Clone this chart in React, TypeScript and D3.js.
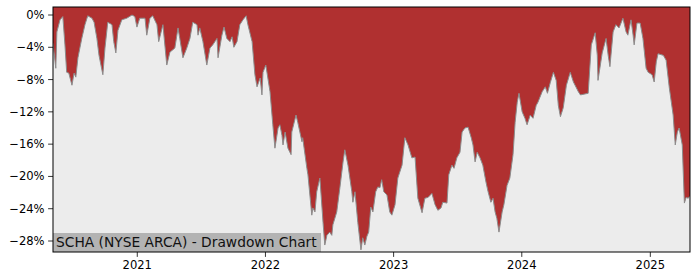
import React from 'react';
import * as d3 from 'd3';

const dates: string[] = [
  '2020-05-06','2020-05-14','2020-05-17','2020-05-26','2020-06-03','2020-06-09','2020-06-14','2020-06-20','2020-06-29','2020-07-05',
  '2020-07-10','2020-07-16','2020-07-27','2020-08-05','2020-08-13','2020-08-25','2020-08-31','2020-09-08','2020-09-14','2020-09-25',
  '2020-10-01','2020-10-09','2020-10-21','2020-10-26','2020-11-01','2020-11-07','2020-11-18','2020-12-02','2020-12-17','2020-12-25',
  '2020-12-31','2021-01-08','2021-01-23','2021-01-28','2021-02-06','2021-02-14','2021-02-26','2021-03-03','2021-03-15','2021-03-26',
  '2021-04-04','2021-04-18','2021-04-27','2021-05-02','2021-05-11','2021-05-22','2021-05-31','2021-06-08','2021-06-20','2021-06-23',
  '2021-06-28','2021-07-07','2021-07-18','2021-07-27','2021-08-04','2021-08-16','2021-08-19','2021-08-30','2021-09-05','2021-09-13',
  '2021-09-22','2021-09-28','2021-10-03','2021-10-12','2021-10-20','2021-10-29','2021-11-07','2021-11-12','2021-11-24','2021-12-02',
  '2021-12-08','2021-12-17','2021-12-22','2021-12-25','2022-01-02','2022-01-14','2022-01-22','2022-01-28','2022-02-06','2022-02-11',
  '2022-02-17','2022-02-20','2022-02-26','2022-03-06','2022-03-15','2022-03-17','2022-03-29','2022-04-03','2022-04-15','2022-04-17',
  '2022-04-29','2022-05-02','2022-05-13','2022-05-16','2022-05-22','2022-05-27','2022-06-05','2022-06-14','2022-06-19','2022-06-25',
  '2022-07-03','2022-07-09','2022-07-12','2022-07-23','2022-08-01','2022-08-10','2022-08-15','2022-08-24','2022-09-04','2022-09-07',
  '2022-09-13','2022-09-21','2022-09-30','2022-10-05','2022-10-11','2022-10-17','2022-10-22','2022-10-28','2022-11-03','2022-11-11',
  '2022-11-17','2022-11-23','2022-11-28','2022-12-04','2022-12-13','2022-12-21','2022-12-27','2023-01-05','2023-01-13','2023-01-25',
  '2023-02-02','2023-02-11','2023-02-22','2023-03-03','2023-03-11','2023-03-23','2023-03-31','2023-04-09','2023-04-20','2023-04-29',
  '2023-05-07','2023-05-16','2023-05-21','2023-06-02','2023-06-07','2023-06-16','2023-06-22','2023-06-30','2023-07-09','2023-07-15',
  '2023-07-23','2023-08-01','2023-08-10','2023-08-15','2023-08-21','2023-08-27','2023-09-04','2023-09-12','2023-09-21','2023-09-27',
  '2023-10-05','2023-10-11','2023-10-17','2023-10-22','2023-10-28','2023-11-06','2023-11-11','2023-11-20','2023-11-28','2023-12-07',
  '2023-12-13','2023-12-19','2023-12-24','2024-01-02','2024-01-10','2024-01-16','2024-01-25','2024-02-02','2024-02-11','2024-02-16',
  '2024-02-28','2024-03-08','2024-03-14','2024-03-22','2024-03-31','2024-04-08','2024-04-14','2024-04-20','2024-04-28','2024-05-07',
  '2024-05-18','2024-05-27','2024-06-10','2024-06-16','2024-07-08','2024-07-17','2024-07-28','2024-08-03','2024-08-05','2024-08-17',
  '2024-08-28','2024-09-03','2024-09-08','2024-09-17','2024-09-25','2024-10-04','2024-10-15','2024-10-24','2024-10-29','2024-11-07',
  '2024-11-13','2024-11-16','2024-11-24','2024-12-03','2024-12-11','2024-12-20','2024-12-26','2025-01-06','2025-01-12','2025-01-18',
  '2025-01-23','2025-02-07','2025-02-15','2025-02-24','2025-03-07','2025-03-13','2025-03-19','2025-03-24','2025-04-02','2025-04-08',
  '2025-04-13','2025-04-19','2025-04-24'
];

const drawdown: number[] = [
  -3.5,-6.6,-2.1,-0.6,-0.2,-3.7,-7.1,-7.2,-8.7,-7.2,
  -7.7,-5.3,-2.9,-1.2,-0.1,-0.4,-0.9,-2.9,-5.0,-7.4,
  -4.1,-0.9,-1.2,-3.3,-4.7,-1.9,-0.6,-0.4,0.0,-0.2,
  -1.5,-0.4,-0.4,-2.5,-0.4,-0.1,-1.2,-3.3,-1.2,-6.2,
  -4.6,-4.1,-1.6,-2.9,-5.3,-4.1,-2.9,-0.9,-1.2,-2.5,
  -1.6,-3.3,-6.2,-4.1,-3.7,-2.9,-5.3,-2.5,-1.5,-2.9,
  -3.3,-2.7,-4.0,-3.3,-1.2,-0.6,-0.1,-1.2,-3.3,-7.4,
  -8.9,-7.8,-9.9,-7.1,-6.2,-9.5,-13.6,-16.5,-14.0,-13.6,
  -14.9,-16.1,-14.5,-16.5,-17.3,-14.5,-12.4,-13.3,-15.7,-15.2,
  -19.0,-19.8,-24.8,-23.9,-24.4,-21.9,-20.2,-25.7,-28.5,-27.3,
  -26.9,-27.3,-26.0,-24.4,-21.4,-18.2,-16.7,-18.6,-21.9,-23.2,
  -21.9,-25.7,-29.1,-27.6,-28.5,-27.4,-26.9,-23.8,-24.4,-21.9,
  -21.3,-21.4,-20.4,-21.9,-22.3,-24.4,-24.8,-23.5,-20.2,-18.6,
  -15.2,-16.1,-17.7,-17.6,-22.7,-24.5,-22.7,-22.6,-22.1,-23.5,
  -24.2,-23.9,-23.2,-23.3,-19.8,-18.6,-19.0,-17.7,-17.0,-14.5,
  -14.0,-13.9,-15.2,-16.1,-18.2,-17.0,-17.7,-18.6,-20.7,-21.9,
  -23.2,-22.7,-24.4,-25.2,-26.9,-24.4,-23.5,-21.1,-20.2,-17.3,
  -13.3,-10.8,-9.7,-12.0,-12.8,-13.6,-12.4,-12.8,-11.2,-10.8,
  -9.5,-8.9,-9.7,-8.4,-7.1,-8.1,-11.2,-12.6,-11.5,-8.7,
  -7.1,-8.3,-9.5,-9.9,-9.7,-3.7,-2.2,-5.0,-8.1,-4.7,
  -2.9,-5.0,-6.4,-2.1,-1.2,-1.6,-0.4,-2.1,-2.5,-0.6,
  -2.5,-3.7,-1.0,-1.0,-2.9,-6.6,-7.1,-7.4,-8.3,-5.8,
  -4.8,-5.0,-5.6,-9.0,-12.4,-16.1,-14.5,-14.0,-16.1,-23.3,
  -22.6,-22.7,-22.4
];

const yTicks: number[] = [0, -4, -8, -12, -16, -20, -24, -28];
const xTickYears: number[] = [2021, 2022, 2023, 2024, 2025];
const title = 'SCHA (NYSE ARCA) - Drawdown Chart';

const W = 700;
const H = 280;
const L = 53, R = 690, T = 7, B = 252;
const FONT = 'DejaVu Sans, sans-serif';

export default function App() {
  const parse = d3.timeParse('%Y-%m-%d');
  const data = dates.map((d, i) => ({ date: parse(d) as Date, v: drawdown[i] }));

  const x = d3.scaleTime()
    .domain([new Date(2020, 4, 6), new Date(2025, 3, 24)])
    .range([L, R]);
  const y = d3.scaleLinear().domain([0, -28]).range([15, 241]);

  const area = d3.area<{ date: Date; v: number }>()
    .x(d => x(d.date))
    .y0(T)
    .y1(d => y(d.v));
  const line = d3.line<{ date: Date; v: number }>()
    .x(d => x(d.date))
    .y(d => y(d.v));

  const fmt = (v: number) => (v === 0 ? '0' : '\u2212' + Math.abs(v)) + '%';

  return (
    <svg width={W} height={H} style={{ position: 'absolute', left: 0, top: 0, background: '#fff' }}>
      <defs>
        <clipPath id="plotclip">
          <rect x={L} y={T} width={R - L} height={B - T} />
        </clipPath>
      </defs>
      <rect x={L} y={T} width={R - L} height={B - T} fill="#ececec" />
      <g clipPath="url(#plotclip)">
        <path d={area(data) || ''} fill="#b03030" />
        <path d={line(data) || ''} fill="none" stroke="#8c8c8c" strokeWidth={1} />
      </g>
      <rect x={L} y={233} width={268} height={B - 233} fill="#b3b3b3" />
      <text x={56} y={247.3} fontFamily={FONT} fontSize={13.8} fill="#111">{title}</text>
      <rect x={L} y={T} width={R - L} height={B - T} fill="none" stroke="#000" strokeWidth={1} />
      {yTicks.map(t => (
        <g key={t}>
          <line x1={L - 4.9} x2={L} y1={y(t)} y2={y(t)} stroke="#000" strokeWidth={0.8} />
          <text x={L - 8.4} y={y(t)} dy="0.35em" textAnchor="end" fontFamily={FONT} fontSize={11.57} fill="#000">{fmt(t)}</text>
        </g>
      ))}
      {xTickYears.map(yr => {
        const xp = x(new Date(yr, 0, 1));
        return (
          <g key={yr}>
            <line x1={xp} x2={xp} y1={B} y2={B + 4.9} stroke="#000" strokeWidth={0.8} />
            <text x={xp} y={B + 8.4} dy="0.76em" textAnchor="middle" fontFamily={FONT} fontSize={11.57} fill="#000">{yr}</text>
          </g>
        );
      })}
    </svg>
  );
}
